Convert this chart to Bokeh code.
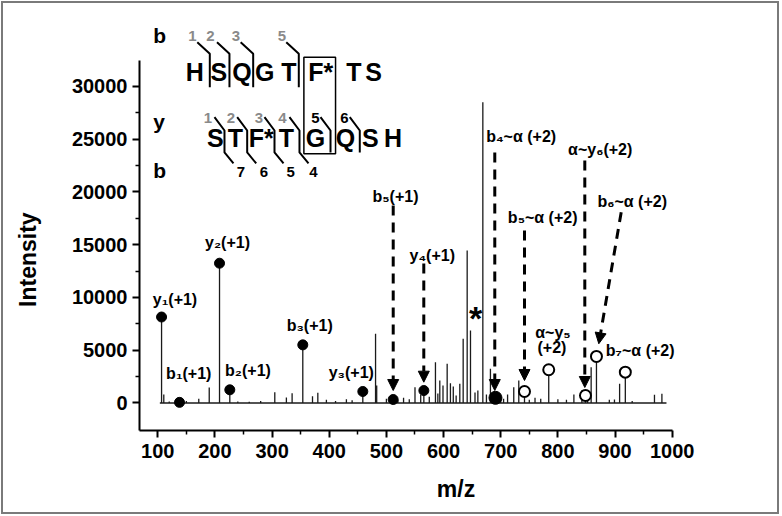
from bokeh.plotting import figure
from bokeh.models import Range1d, ColumnDataSource, Arrow, NormalHead, FixedTicker
from bokeh.core.properties import value
from bokeh.embed import file_html
from bokeh.resources import INLINE

FONT = "Liberation Sans"

# ---------------- spectrum (m/z, intensity) ----------------
peak_mz = [106.6, 110.5, 120, 150, 171.7, 190, 208, 226, 240, 260, 280, 304.7, 325, 335, 353.7,
           370.7, 380, 395, 411, 430, 440, 458.7, 481, 483, 500, 511.8, 520, 530, 540, 550, 560,
           565.5, 575, 585.8, 590, 593.4, 599, 606.3, 612, 617, 622, 628.4, 634.3, 641.3, 647.1,
           655, 660, 668.7, 675, 682, 690.8, 700, 705, 712, 722.8, 731.6, 741.6, 750, 760, 770,
           784, 800, 815, 828, 842, 848.3, 852, 858.2, 867.5, 890, 899, 908, 918, 930, 969, 982]
peak_int = [8150, 800, 150, 200, 400, 1470, 13250, 1250, 150, 120, 200, 1020, 520, 930, 5510,
            650, 960, 300, 200, 350, 250, 1090, 6560, 1650, 400, 330, 300, 500, 350, 1500, 800,
            1180, 600, 3870, 900, 2130, 1660, 3710, 1880, 1560, 700, 1820, 6080, 14450, 6870,
            1000, 1180, 28500, 800, 3240, 490, 600, 400, 800, 1500, 2130, 1090, 300, 500, 400,
            3150, 350, 300, 800, 1200, 710, 1200, 3400, 4410, 300, 330, 1820, 2920, 200, 780, 870]

# annotated b / y ions (filled) and alpha-linked ions (open)
filled_mz = [106.6, 138, 208, 226, 353.7, 458.7, 511.8, 565.5]
filled_int = [8150, 60, 13250, 1250, 5510, 1090, 330, 1180]
big_mz = [690.8]
big_int = [490]
open_mz = [741.6, 784, 848.3, 867.5, 918]
open_int = [1090, 3150, 710, 4410, 2920]

# ion labels
label_text = ["y\u2081(+1)", "y\u2082(+1)", "b\u2081(+1)", "b\u2082(+1)", "b\u2083(+1)", "y\u2083(+1)",
              "b\u2085(+1)", "y\u2084(+1)", "b\u2084~\u03b1 (+2)", "\u03b1~y\u2086(+2)", "b\u2085~\u03b1 (+2)",
              "b\u2086~\u03b1 (+2)", "\u03b1~y\u2085", "(+2)", "b\u2087~\u03b1 (+2)"]
label_mz = [130.1, 222, 154.2, 257.8, 365.8, 438.6, 515.9, 580.3, 735.8, 874.0, 773.4, 930.0, 791.4, 789.7, 944.0]
label_int = [9763, 15200, 2749, 3033, 7346, 2938, 19574, 13982, 25214, 24010, 17584, 19119, 6711, 5289, 4929]

# dashed arrows (start -> tip)
arrow_x0 = [511.9, 565.4, 689.6, 741.6, 847.1, 910.8]
arrow_y0 = [18721, 13223, 23745, 16351, 22987, 18086]
arrow_x1 = [511.9, 565.4, 689.6, 741.6, 847.1, 871.6]
arrow_y1 = [1185, 1972, 1185, 2133, 1469, 5612]

star_mz, star_int = [655.9], [8010]

# ---------------- sequence diagram ----------------
row_label = ["b", "y", "b"]
row_label_mz = [92, 92, 92]
row_label_int = [34835, 26683, 22040]

top_seq = ["H", "S", "Q", "G", "T", "F*", "T", "S"]
top_seq_mz = [164.6, 206.7, 247.3, 287.0, 329.2, 385.2, 442.9, 477.4]
top_seq_int = [31357] * 8

bot_seq = ["S", "T", "F*", "T", "G", "Q", "S", "H"]
bot_seq_mz = [200.6, 235.6, 281.1, 324.8, 375.9, 428.4, 471.8, 511.5]
bot_seq_int = [25072] * 8

b_top_num = ["1", "2", "3", "5"]
b_top_num_mz = [160.7, 192.2, 236.8, 317.3]
b_top_num_int = [34788] * 4

y_num = ["1", "2", "3", "4", "5", "6"]
y_num_mz = [187.8, 228.1, 277.1, 318.2, 375.9, 426.6]
y_num_int = [27015] * 6
y_num_color = ["#8a8a8a", "#8a8a8a", "#8a8a8a", "#8a8a8a", "black", "black"]

b_bot_num = ["7", "6", "5", "4"]
b_bot_num_mz = [245.6, 285.8, 332.7, 372.1]
b_bot_num_int = [21878] * 4

# cleavage brackets
top_cut_start = [169.1, 203.6, 245.0, 324.8]
top_cut_bar = [191.0, 225.4, 266.9, 346.7]
top_cut_int = [34200, 33101, 29935]
bot_cut_start = [199.2, 238.9, 286.7, 330.4, 384.7, 435.9]
bot_cut_bar = [216.7, 256.4, 304.2, 347.9, 402.2, 453.4]
bot_cut_end = [232.4, 272.2, 320.0, 363.7]
bot_cut_int = [27092, 25830, 23745, 22702]

box_l, box_r, box_t, box_b = 355.6, 411.0, 32780, 23622

# ---------------- figure ----------------
p = figure(width=780, height=515, x_range=Range1d(68, 1175.5), y_range=Range1d(-2607, 36445),
           output_backend="svg", toolbar_location=None,
           min_border_left=139, min_border_right=8, min_border_top=18, min_border_bottom=85)
p.grid.visible = False
p.outline_line_color = None
p.background_fill_color = None
p.border_fill_color = None
p.styles = {"outline": "2px solid #7a7a7a", "outline-offset": "-3px"}

p.xaxis.bounds = (68, 1000)
p.yaxis.bounds = (-2607, 32500)
p.xaxis.ticker = FixedTicker(ticks=list(range(100, 1001, 100)), minor_ticks=list(range(150, 1000, 100)))
p.yaxis.ticker = FixedTicker(ticks=list(range(0, 30001, 5000)), minor_ticks=list(range(2500, 30000, 5000)))
p.xaxis.axis_label = "m/z"
# trailing no-break spaces keep the title centred on the drawn part of the axis
p.yaxis.axis_label = "Intensity" + "\u00a0" * 11
for ax in (p.xaxis, p.yaxis):
    ax.axis_line_width = 2
    ax.axis_line_color = "black"
    ax.major_tick_line_width = 2
    ax.major_tick_line_color = "black"
    ax.minor_tick_line_width = 1.5
    ax.minor_tick_line_color = "black"
    ax.major_tick_in = 0
    ax.major_tick_out = 7
    ax.minor_tick_in = 0
    ax.minor_tick_out = 4
    ax.major_label_text_font = FONT
    ax.major_label_text_font_style = "bold"
    ax.major_label_text_font_size = "20px"
    ax.major_label_text_color = "black"
    ax.axis_label_text_font = FONT
    ax.axis_label_text_font_style = "bold"
    ax.axis_label_text_font_size = "23px"
    ax.axis_label_text_color = "black"
p.yaxis.major_label_standoff = 5
p.yaxis.axis_label_standoff = 28
p.xaxis.major_label_standoff = 6
p.xaxis.axis_label_standoff = 15

# baseline and peaks
p.line([min(peak_mz) - 3, max(peak_mz) + 8], [0, 0], line_color="#1a1a1a", line_width=1.3)
p.segment(x0=peak_mz, y0=[0] * len(peak_mz), x1=peak_mz, y1=peak_int, line_color="#1a1a1a", line_width=1.3)

# markers
p.scatter(filled_mz, filled_int, size=10, color="black")
p.scatter(big_mz, big_int, size=13, color="black")
p.scatter(open_mz, open_int, size=11, fill_color="white", line_color="black", line_width=2)

# arrows
asrc = ColumnDataSource(dict(x0=arrow_x0, y0=arrow_y0, x1=arrow_x1, y1=arrow_y1))
p.add_layout(Arrow(source=asrc, x_start="x0", y_start="y0", x_end="x1", y_end="y1",
                   line_width=3, line_dash="10 7", line_color="black",
                   end=NormalHead(size=11, fill_color="black", line_color="black", line_width=1)))

txt = dict(text_font=value(FONT), text_font_style="bold", text_align="center", text_baseline="middle",
           text_color="black")
p.text(label_mz, label_int, text=label_text, text_font_size="16px", **txt)
p.text(star_mz, star_int, text=["*"], text_font_size="34px", **txt)

# sequence diagram
p.text(row_label_mz, row_label_int, text=row_label, text_font_size="21px",
       text_font=value(FONT), text_font_style="bold", text_align="left", text_baseline="middle")
p.text(top_seq_mz, top_seq_int, text=top_seq, text_font_size="25px", **txt)
p.text(bot_seq_mz, bot_seq_int, text=bot_seq, text_font_size="25px", **txt)
p.text(b_top_num_mz, b_top_num_int, text=b_top_num, text_font_size="15px",
       text_font=value(FONT), text_font_style="bold", text_align="center", text_baseline="middle",
       text_color="#8a8a8a")
p.text(y_num_mz, y_num_int, text=y_num, text_font_size="15px",
       text_font=value(FONT), text_font_style="bold", text_align="center", text_baseline="middle",
       text_color=y_num_color)
p.text(b_bot_num_mz, b_bot_num_int, text=b_bot_num, text_font_size="15px", **txt)

xs, ys = [], []
for s, b in zip(top_cut_start, top_cut_bar):
    xs.append([s, b, b])
    ys.append(top_cut_int)
for i, (s, b) in enumerate(zip(bot_cut_start, bot_cut_bar)):
    if i < len(bot_cut_end):
        xs.append([s, b, b, bot_cut_end[i]])
        ys.append(bot_cut_int)
    else:
        xs.append([s, b, b])
        ys.append(bot_cut_int[:3])
p.multi_line(xs, ys, line_color="black", line_width=2)
p.quad(left=[box_l], right=[box_r], top=[box_t], bottom=[box_b], fill_color=None,
       line_color="black", line_width=1.5)

open("out.html", "w").write(file_html(p, INLINE))
